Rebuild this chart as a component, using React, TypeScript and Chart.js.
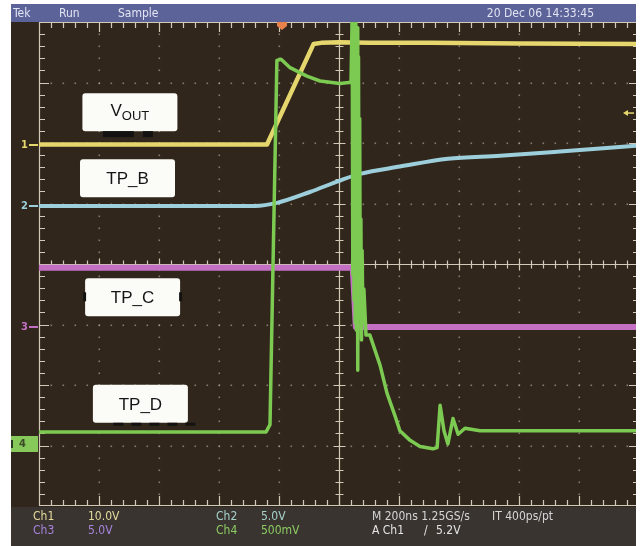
import React, { useEffect, useRef } from "react";
import { Chart, registerables } from "chart.js";

Chart.register(...registerables);

const W = 644;
const H = 546;

// ---- Horizontal (time) setup: 200 ns/div, 10 divisions ----
const timeMin = -1000;
const timeMax = 1000;
const timePerDiv = 200;
const vDivs = 4; // +/- 4 vertical divisions

// ---- Channel settings ----
const chVoltsPerDiv = [10, 5, 5, 0.5];
const chGroundDiv = [1.975, 0.96, -1.04, -2.975];
const chMarkers = ["1", "2", "3", "4"];
const chColors = ["#e6d66e", "#9ccfdb", "#c36fc4", "#7cca52"];

// ---- Ch1 : VOUT ----
const ch1Time = [-1000, -240, -85, -60, 0, 100, 300, 600, 1000];
const ch1Volts = [0, 0, 16.6, 16.8, 16.9, 16.8, 16.8, 16.7, 16.6];

// ---- Ch2 : TP_B ----
const ch2Time = [-1000, -280, -207, -97, 3, 70, 203, 363, 537, 737, 870, 1000];
const ch2Volts = [0, 0, 0.25, 1.15, 2.1, 2.65, 3.25, 3.9, 4.15, 4.5, 4.75, 5.0];

// ---- Ch3 : TP_C ----
const ch3Time = [-1000, 46, 56, 1000];
const ch3Volts = [4.9, 4.9, 0, 0];

// ---- Ch4 : TP_D ----
const ch4Time = [
  -1000, -243, -230, -207, -193, -163, -107, -63, 3, 40,
  44, 46, 48, 50, 52, 54, 56, 58, 60, 62,
  63, 65, 67, 69, 71, 73, 75, 77, 80, 83,
  90, 103, 137, 160, 187, 203, 237, 270, 313, 327,
  337, 350, 363, 380, 397, 420, 470, 1000,
];
const ch4Volts = [
  0.1, 0.1, 0.16, 3.17, 3.18, 3.11, 3.04, 3.0, 2.98, 2.99,
  3.55, 1.4, 3.55, 1.19, 3.55, 1.0, 3.5, 0.94, 3.44, 0.7,
  0.61, 3.2, 1.1, 2.69, 1.03, 1.86, 0.86, 1.6, 1.0, 1.28,
  0.9, 0.9, 0.65, 0.42, 0.23, 0.11, 0.03, -0.02, -0.04, -0.03,
  0.32, 0.11, 0.0, 0.21, 0.08, 0.13, 0.11, 0.11,
];

// ---- Trigger ----
const triggerTime = -190; // trigger position marker
const triggerLevelVolts = 5.2; // on Ch1

// ---- Text ----
const headerLeft = ["Tek", "Run", "Sample"];
const headerDate = "20 Dec 06 14:33:45";
const traceLabels = ["V", "TP_B", "TP_C", "TP_D"];
// label anchor positions in (ns, div)
const labelTimes = [-697, -705, -688, -662];
const labelDivs = [2.51, 1.417, -0.55, -2.31];

const readoutRow1 = ["Ch1", "10.0V", "Ch2", "5.0V", "M 200ns 1.25GS/s", "IT 400ps/pt"];
const readoutRow2 = ["Ch3", "5.0V", "Ch4", "500mV", "A Ch1", "/", "5.2V"];

const seriesTimes = [ch1Time, ch2Time, ch3Time, ch4Time];
const seriesVolts = [ch1Volts, ch2Volts, ch3Volts, ch4Volts];

const toDiv = (v: number, ch: number) => chGroundDiv[ch] + v / chVoltsPerDiv[ch];

const FONT = "'Liberation Sans Narrow', 'DejaVu Sans Condensed', 'Liberation Sans', Arial, sans-serif";
const LABEL_FONT = "'Liberation Sans', Arial, sans-serif";

const SCREEN_BG = "#30261b";
const READOUT_BG = "#3a3431";
const BAR_BG = "#5b6399";
const GRID = "#d2cab8";
const DOT = "rgba(170,160,140,0.7)";

const scopePlugin = {
  id: "scope",
  beforeDraw(chart: any) {
    const ctx = chart.ctx as CanvasRenderingContext2D;
    ctx.save();
    ctx.fillStyle = "#ffffff";
    ctx.fillRect(0, 0, W, H);
    ctx.fillStyle = SCREEN_BG;
    ctx.fillRect(11, 4, 625, 542);
    ctx.fillStyle = READOUT_BG;
    ctx.fillRect(11, 507, 625, 39);
    ctx.fillStyle = BAR_BG;
    ctx.fillRect(11, 4, 625, 18);
    // header text
    ctx.fillStyle = "#e2e4f2";
    ctx.font = `12px ${FONT}`;
    ctx.textBaseline = "middle";
    const hx = [13, 59, 118];
    headerLeft.forEach((t, i) => ctx.fillText(t, hx[i], 13.5));
    ctx.textAlign = "right";
    ctx.fillText(headerDate, 594, 13.5);
    ctx.restore();
  },
  beforeDatasetsDraw(chart: any) {
    const ctx = chart.ctx as CanvasRenderingContext2D;
    const xs = chart.scales.x;
    const ys = chart.scales.y;
    const a = chart.chartArea;
    ctx.save();
    // dotted grid
    ctx.fillStyle = DOT;
    for (let k = 1; k < 10; k++) {
      if (k === 5) continue;
      const px = Math.round(xs.getPixelForValue(timeMin + k * timePerDiv));
      for (let s = 1; s < 40; s++) {
        const py = Math.round(ys.getPixelForValue(-vDivs + s * 0.2));
        ctx.fillRect(px - 0.5, py - 0.5, 1.6, 1.6);
      }
    }
    for (let d = -3; d <= 3; d++) {
      if (d === 0) continue;
      const py = Math.round(ys.getPixelForValue(d));
      for (let s = 1; s < 50; s++) {
        const px = Math.round(xs.getPixelForValue(timeMin + s * 40));
        ctx.fillRect(px - 0.5, py - 0.5, 1.6, 1.6);
      }
    }
    // centre cross
    ctx.strokeStyle = GRID;
    ctx.lineWidth = 1.2;
    const cx = Math.round(xs.getPixelForValue(0)) + 0.5;
    const cy = Math.round(ys.getPixelForValue(0)) + 0.5;
    ctx.beginPath();
    ctx.moveTo(cx, a.top);
    ctx.lineTo(cx, a.bottom);
    ctx.moveTo(a.left, cy);
    ctx.lineTo(a.right, cy);
    for (let s = 1; s < 40; s++) {
      const py = Math.round(ys.getPixelForValue(-vDivs + s * 0.2)) + 0.5;
      const L = s % 5 === 0 ? 6 : 4;
      ctx.moveTo(cx - L, py);
      ctx.lineTo(cx + L, py);
    }
    for (let s = 1; s < 50; s++) {
      const px = Math.round(xs.getPixelForValue(timeMin + s * 40)) + 0.5;
      const L = s % 5 === 0 ? 6 : 4;
      ctx.moveTo(px, cy - L);
      ctx.lineTo(px, cy + L);
    }
    ctx.stroke();
    // border with ticks
    ctx.beginPath();
    ctx.rect(a.left + 0.5, a.top + 0.5, a.right - a.left - 1, a.bottom - a.top - 1);
    for (let s = 1; s < 50; s++) {
      const px = Math.round(xs.getPixelForValue(timeMin + s * 40)) + 0.5;
      const L = s % 5 === 0 ? 10 : 6;
      ctx.moveTo(px, a.top);
      ctx.lineTo(px, a.top + L);
      ctx.moveTo(px, a.bottom);
      ctx.lineTo(px, a.bottom - L);
    }
    for (let s = 1; s < 40; s++) {
      const py = Math.round(ys.getPixelForValue(-vDivs + s * 0.2)) + 0.5;
      const L = s % 5 === 0 ? 10 : 6;
      ctx.moveTo(a.left, py);
      ctx.lineTo(a.left + L, py);
      ctx.moveTo(a.right, py);
      ctx.lineTo(a.right - L, py);
    }
    ctx.stroke();
    ctx.restore();
  },
  afterDatasetsDraw(chart: any) {
    const ctx = chart.ctx as CanvasRenderingContext2D;
    const xs = chart.scales.x;
    const ys = chart.scales.y;
    const a = chart.chartArea;
    ctx.save();

    // channel ground markers
    ctx.textBaseline = "middle";
    ctx.font = `bold 11px ${FONT}`;
    chMarkers.forEach((m, i) => {
      const py = Math.round(ys.getPixelForValue(chGroundDiv[i]));
      if (i === 3) {
        ctx.fillStyle = "#86c85a";
        ctx.fillRect(11, py - 8, 27, 16);
        ctx.fillStyle = "#3c4a2a";
        ctx.fillText(m, 19, py + 0.5);
        ctx.fillStyle = "#2c3a20";
        ctx.fillRect(11, py - 4, 2, 8);
      } else {
        ctx.fillStyle = chColors[i];
        ctx.fillText(m, 21, py + 0.5);
        ctx.fillRect(29, py - 1, 9, 2);
      }
    });

    // trigger position marker (top)
    const tx = xs.getPixelForValue(triggerTime);
    ctx.fillStyle = "#e6824a";
    ctx.beginPath();
    ctx.moveTo(tx - 5, a.top);
    ctx.lineTo(tx + 5, a.top);
    ctx.lineTo(tx + 5, a.top + 4);
    ctx.lineTo(tx, a.top + 8);
    ctx.lineTo(tx - 5, a.top + 4);
    ctx.closePath();
    ctx.fill();

    // trigger level arrow (right)
    const ly = ys.getPixelForValue(toDiv(triggerLevelVolts, 0));
    ctx.strokeStyle = chColors[0];
    ctx.fillStyle = chColors[0];
    ctx.lineWidth = 1.5;
    ctx.beginPath();
    ctx.moveTo(627, ly);
    ctx.lineTo(634, ly);
    ctx.stroke();
    ctx.beginPath();
    ctx.moveTo(623, ly);
    ctx.lineTo(628, ly - 3);
    ctx.lineTo(628, ly + 3);
    ctx.closePath();
    ctx.fill();

    // trace label boxes
    const boxW = 95;
    const boxH = 38;
    traceLabels.forEach((lab, i) => {
      const bx = xs.getPixelForValue(labelTimes[i]);
      const by = ys.getPixelForValue(labelDivs[i]);
      ctx.fillStyle = "#fbfbf8";
      ctx.beginPath();
      (ctx as any).roundRect(bx - boxW / 2, by - boxH / 2, boxW, boxH, 3);
      ctx.fill();
      ctx.fillStyle = "#151515";
      ctx.textBaseline = "alphabetic";
      if (i === 0) {
        ctx.font = `17px ${LABEL_FONT}`;
        const wV = ctx.measureText("V").width;
        ctx.font = `13px ${LABEL_FONT}`;
        const wO = ctx.measureText("OUT").width;
        const x0 = bx - (wV + wO) / 2;
        ctx.font = `17px ${LABEL_FONT}`;
        ctx.fillText("V", x0, by + 4);
        ctx.font = `13px ${LABEL_FONT}`;
        ctx.fillText("OUT", x0 + wV, by + 8);
        // dark tabs under the box
        ctx.fillStyle = "#141210";
        ctx.fillRect(bx - 27, by + boxH / 2, 31, 6);
        ctx.fillRect(bx + 13, by + boxH / 2, 10, 6);
      } else {
        ctx.font = `17px ${LABEL_FONT}`;
        ctx.textAlign = "center";
        ctx.fillText(lab, bx, by + 6);
        ctx.textAlign = "left";
        if (i === 2) {
          ctx.fillStyle = "#141210";
          ctx.fillRect(bx - boxW / 2 - 2, by - 5, 3, 9);
          ctx.fillRect(bx + boxW / 2 - 1, by - 5, 3, 9);
        }
        if (i === 3) {
          ctx.fillStyle = "#141210";
          for (let k = 0; k < 5; k++) ctx.fillRect(bx - 27 + k * 18, by + boxH / 2, 10, 3);
        }
      }
    });

    // readout
    ctx.textBaseline = "middle";
    ctx.font = `12px ${FONT}`;
    const r1x = [33, 88, 216, 261, 372, 492];
    const r1c = ["#e6dc9c", "#e6dc9c", "#a6d2cc", "#a6d2cc", "#d6d6d6", "#d6d6d6"];
    readoutRow1.forEach((t, i) => {
      ctx.fillStyle = r1c[i];
      ctx.fillText(t, r1x[i], 517);
    });
    const r2x = [33, 88, 216, 261, 372, 424, 436];
    const r2c = ["#a884de", "#a884de", "#8ccc62", "#8ccc62", "#e4e4e4", "#e4e4e4", "#e4e4e4"];
    readoutRow2.forEach((t, i) => {
      ctx.fillStyle = r2c[i];
      ctx.fillText(t, r2x[i], 531);
    });

    // image crop on the right
    ctx.fillStyle = "#ffffff";
    ctx.fillRect(636, 0, W - 636, H);
    ctx.restore();
  },
};

export default function App() {
  const ref = useRef<HTMLCanvasElement | null>(null);
  useEffect(() => {
    if (!ref.current) return;
    const datasets = seriesTimes.map((times, ch) => ({
      label: chMarkers[ch],
      data: times.map((t, i) => ({ x: t, y: toDiv(seriesVolts[ch][i], ch) })),
      borderColor: chColors[ch],
      borderWidth: [4.5, 4, 6, 3.5][ch],
      pointRadius: 0,
      tension: 0,
      order: ch === 3 ? 0 : 1,
      borderJoinStyle: "round" as const,
      borderCapStyle: "round" as const,
      cubicInterpolationMode: ch === 1 ? ("monotone" as const) : ("default" as const),
    }));
    const chart = new Chart(ref.current, {
      type: "line",
      data: { datasets },
      options: {
        responsive: false,
        maintainAspectRatio: false,
        animation: false,
        devicePixelRatio: 1,
        layout: { padding: { left: 39, top: 22, right: 5, bottom: 40 } },
        scales: {
          x: { type: "linear", min: timeMin, max: timeMax, display: false },
          y: { type: "linear", min: -vDivs, max: vDivs, display: false },
        },
        plugins: { legend: { display: false }, tooltip: { enabled: false } },
      },
      plugins: [scopePlugin],
    });
    return () => chart.destroy();
  }, []);
  return (
    <div style={{ position: "fixed", left: 0, top: 0, width: W, height: H }}>
      <canvas ref={ref} width={W} height={H} style={{ display: "block", width: W, height: H }} />
    </div>
  );
}
